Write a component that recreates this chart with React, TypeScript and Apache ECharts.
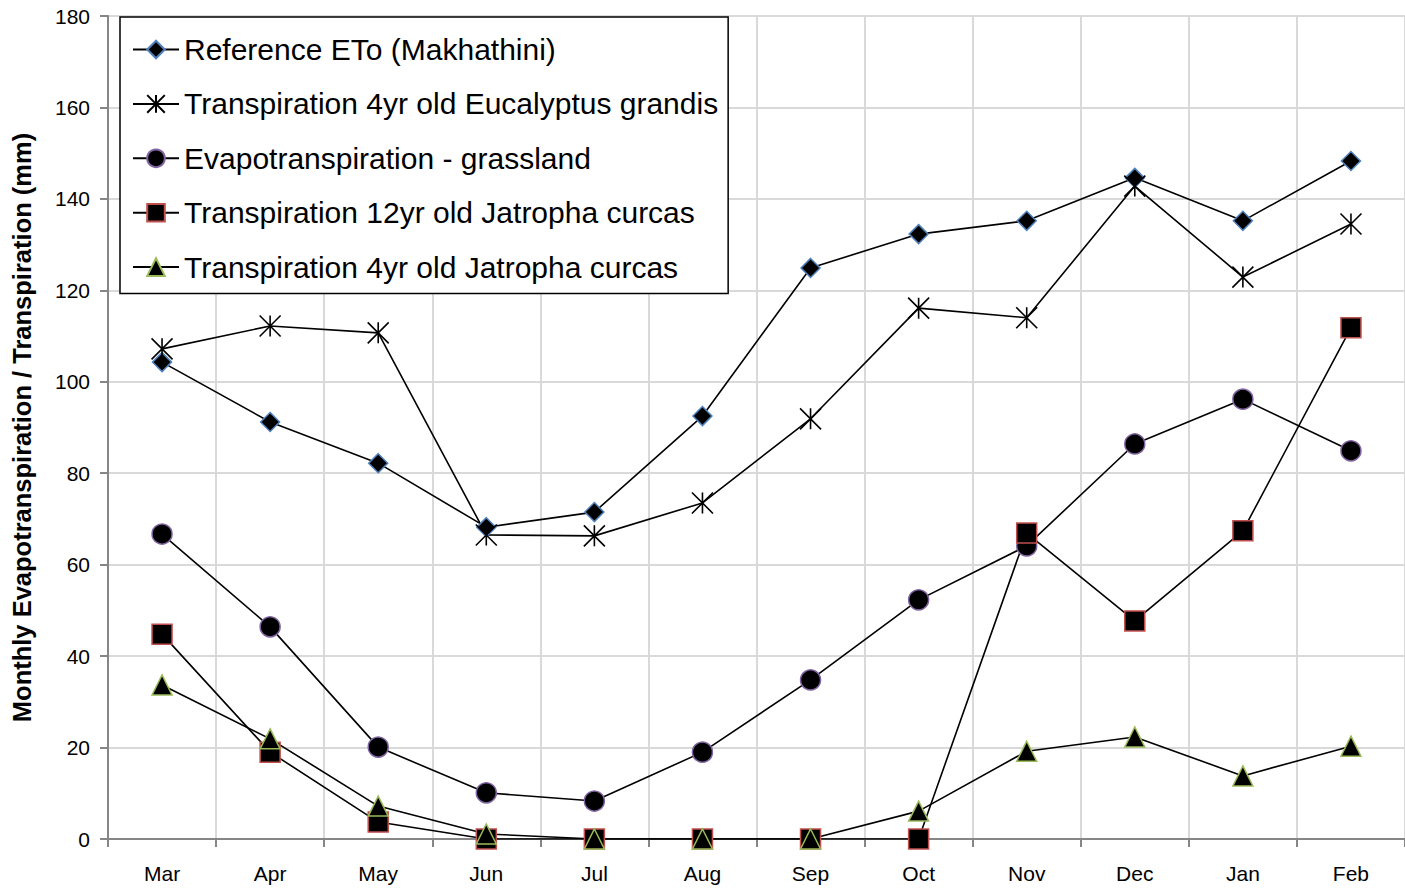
import React, { useEffect, useRef } from "react";
import * as echarts from "echarts";

const months = ["Mar", "Apr", "May", "Jun", "Jul", "Aug", "Sep", "Oct", "Nov", "Dec", "Jan", "Feb"];
const referenceETo = [104.3, 91.2, 82.2, 68.2, 71.5, 92.5, 124.9, 132.3, 135.2, 144.6, 135.2, 148.3];
const eucalyptus4yr = [107.2, 112.2, 110.7, 66.5, 66.3, 73.5, 91.9, 116.1, 114.0, 142.8, 122.9, 134.5];
const grassland = [66.7, 46.4, 20.1, 10.1, 8.3, 19.0, 34.8, 52.3, 64.1, 86.4, 96.2, 84.9];
const jatropha12yr = [44.8, 19.0, 3.7, 0, 0, 0, 0, 0, 66.9, 47.7, 67.4, 111.8];
const jatropha4yr = [33.7, 21.9, 7.2, 1.1, 0, 0, 0, 6.1, 19.2, 22.3, 13.8, 20.3];
const yTicks = { min: 0, max: 180, interval: 20 };

const seriesNames = [
  "Reference ETo (Makhathini)",
  "Transpiration 4yr old Eucalyptus grandis",
  "Evapotranspiration - grassland",
  "Transpiration 12yr old Jatropha curcas",
  "Transpiration 4yr old Jatropha curcas",
];

const FONT = "'Liberation Sans', Arial, sans-serif";
const asterisk = "path://M10,0L10,20M0,0L20,20M20,0L0,20";

export default function App() {
  const ref = useRef<HTMLDivElement>(null);
  useEffect(() => {
    if (!ref.current) return;
    const chart = echarts.init(ref.current, null, { renderer: "svg" });
    const line = { color: "#000", width: 1.6 };
    chart.setOption({
      animation: false,
      backgroundColor: "#fff",
      textStyle: { fontFamily: FONT },
      grid: { left: 108, top: 16, right: -3, bottom: 51 },
      legend: {
        orient: "vertical",
        left: 120,
        top: 17,
        padding: [17, 10, 11, 12],
        itemGap: 23.4,
        itemWidth: 46,
        itemHeight: 22,
        backgroundColor: "#fff",
        borderColor: "#000",
        borderWidth: 1.5,
        borderRadius: 0,
        textStyle: { fontFamily: FONT, fontSize: 30, color: "#000", lineHeight: 31 },
        data: seriesNames,
      },
      xAxis: {
        type: "category",
        data: months,
        boundaryGap: true,
        axisLine: { lineStyle: { color: "#868686", width: 2 } },
        axisTick: { show: true, length: 8, lineStyle: { color: "#868686", width: 2 } },
        axisLabel: { fontSize: 21, color: "#000", margin: 24, fontFamily: FONT },
        splitLine: { show: true, lineStyle: { color: "#d9d9d9", width: 2 } },
      },
      yAxis: {
        type: "value",
        min: yTicks.min,
        max: yTicks.max,
        interval: yTicks.interval,
        name: "Monthly Evapotranspiration / Transpiration (mm)",
        nameLocation: "middle",
        nameGap: 73,
        nameTextStyle: { fontSize: 25.5, fontWeight: "bold", color: "#000", fontFamily: FONT },
        axisLine: { show: true, lineStyle: { color: "#868686", width: 2 } },
        axisTick: { show: true, length: 8, lineStyle: { color: "#868686", width: 2 } },
        axisLabel: { fontSize: 21, color: "#000", margin: 18, fontFamily: FONT },
        splitLine: { show: true, lineStyle: { color: "#d9d9d9", width: 2 } },
      },
      series: [
        {
          name: seriesNames[0],
          type: "line",
          data: referenceETo,
          symbol: "diamond",
          symbolSize: 19,
          lineStyle: line,
          itemStyle: { color: "#000", borderColor: "#4f81bd", borderWidth: 1.5 },
        },
        {
          name: seriesNames[1],
          type: "line",
          data: eucalyptus4yr,
          symbol: asterisk,
          symbolSize: 21,
          lineStyle: line,
          itemStyle: { color: "transparent", borderColor: "#000", borderWidth: 1.6 },
        },
        {
          name: seriesNames[2],
          type: "line",
          data: grassland,
          symbol: "circle",
          symbolSize: 20,
          lineStyle: line,
          itemStyle: { color: "#000", borderColor: "#8064a2", borderWidth: 1.5 },
        },
        {
          name: seriesNames[3],
          type: "line",
          data: jatropha12yr,
          symbol: "rect",
          symbolSize: 20,
          lineStyle: line,
          itemStyle: { color: "#000", borderColor: "#c0504d", borderWidth: 1.5 },
        },
        {
          name: seriesNames[4],
          type: "line",
          data: jatropha4yr,
          symbol: "triangle",
          symbolSize: 20,
          lineStyle: line,
          itemStyle: { color: "#000", borderColor: "#9bbb59", borderWidth: 1.5 },
        },
      ],
    });
    return () => chart.dispose();
  }, []);
  return (
    <div
      ref={ref}
      style={{ position: "fixed", left: 0, top: 0, width: 1405, height: 890, background: "#fff" }}
    />
  );
}
